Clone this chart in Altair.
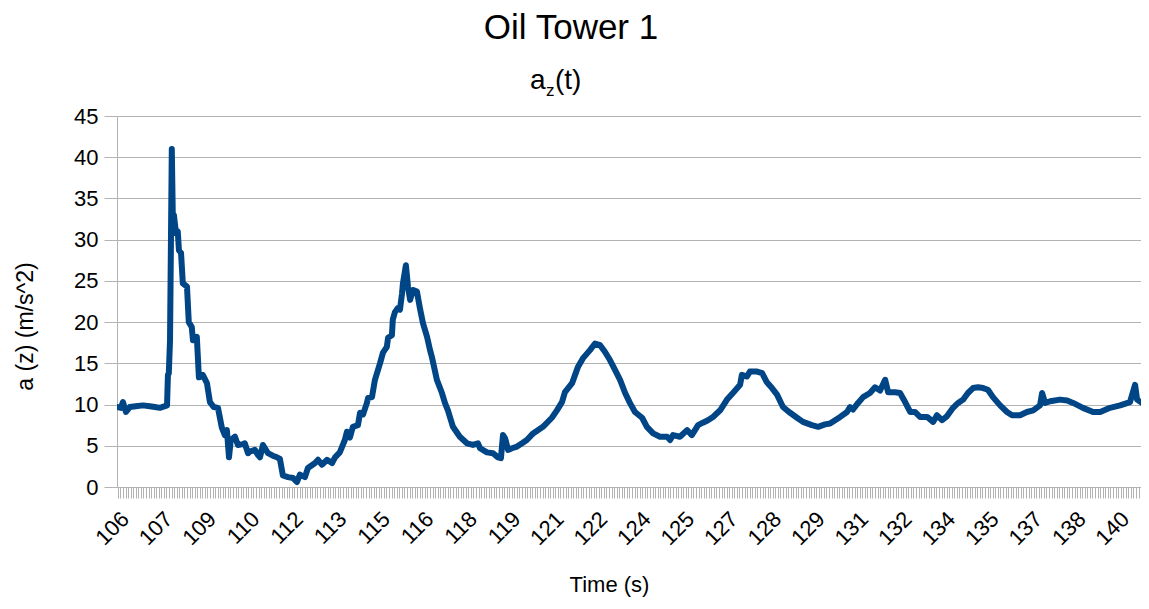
import json
import altair as alt
import pandas as pd

# ---- data ----
time_s = [
    106.00, 106.10, 106.17, 106.27, 106.40, 106.60, 106.84, 107.07, 107.24, 107.41,
    107.58, 107.65, 107.68, 107.71, 107.75, 107.81, 107.85, 107.88, 107.95, 108.01,
    108.05, 108.12, 108.18, 108.32, 108.38, 108.48, 108.52, 108.65, 108.72, 108.85,
    108.99, 109.09, 109.22, 109.36, 109.49, 109.59, 109.66, 109.73, 109.79, 109.93,
    110.03, 110.20, 110.26, 110.37, 110.43, 110.60, 110.70, 110.77, 110.87, 111.04,
    111.20, 111.34, 111.44, 111.54, 111.71, 111.88, 112.01, 112.11, 112.28, 112.38,
    112.62, 112.72, 112.85, 113.02, 113.19, 113.29, 113.45, 113.62, 113.69, 113.79,
    113.89, 114.06, 114.13, 114.23, 114.36, 114.40, 114.53, 114.63, 114.80, 114.90,
    115.03, 115.07, 115.20, 115.23, 115.30, 115.40, 115.47, 115.54, 115.57, 115.67,
    115.74, 115.81, 115.91, 116.04, 116.14, 116.24, 116.38, 116.48, 116.54, 116.71,
    116.88, 116.98, 117.08, 117.25, 117.48, 117.72, 117.92, 118.09, 118.16, 118.39,
    118.59, 118.76, 118.86, 118.93, 119.00, 119.10, 119.23, 119.40, 119.57, 119.73,
    119.94, 120.27, 120.57, 120.74, 120.91, 121.01, 121.25, 121.45, 121.61, 121.85,
    122.02, 122.19, 122.35, 122.52, 122.69, 122.86, 123.03, 123.19, 123.36, 123.60,
    123.76, 123.97, 124.20, 124.44, 124.54, 124.64, 124.87, 125.11, 125.27, 125.48,
    125.64, 125.81, 125.98, 126.22, 126.45, 126.65, 126.89, 126.95, 127.12, 127.22,
    127.46, 127.63, 127.79, 127.96, 128.13, 128.33, 128.57, 128.80, 129.00, 129.30,
    129.51, 129.74, 129.91, 130.25, 130.48, 130.58, 130.68, 130.85, 131.02, 131.25,
    131.42, 131.59, 131.76, 131.86, 132.09, 132.26, 132.43, 132.60, 132.76, 132.93,
    133.17, 133.37, 133.50, 133.67, 133.84, 134.04, 134.21, 134.38, 134.54, 134.71,
    134.88, 135.05, 135.21, 135.38, 135.62, 135.85, 136.02, 136.29, 136.52, 136.73,
    136.96, 137.03, 137.13, 137.30, 137.63, 137.87, 138.07, 138.40, 138.74, 138.98,
    139.31, 139.65, 139.98, 140.15, 140.22, 140.38, 140.59,
]
accel_z = [
    9.7, 9.6, 10.3, 9.1, 9.7, 9.8, 9.9, 9.8, 9.7, 9.6,
    9.8, 9.9, 13.6, 13.8, 17.8, 41.0, 31.2, 33.0, 30.8, 31.0,
    28.7, 28.4, 24.7, 24.3, 20.0, 19.4, 17.8, 18.2, 13.3, 13.6,
    12.6, 10.3, 9.7, 9.6, 7.2, 6.3, 6.9, 3.6, 5.7, 6.1,
    5.1, 5.2, 5.3, 4.1, 4.3, 4.5, 3.9, 3.6, 5.1, 4.1,
    3.8, 3.6, 3.4, 1.4, 1.2, 1.1, 0.6, 1.5, 1.2, 2.3,
    2.9, 3.3, 2.7, 3.3, 2.9, 3.6, 4.2, 5.7, 6.7, 6.0,
    7.3, 7.5, 9.0, 8.8, 10.2, 10.8, 10.9, 13.0, 15.0, 16.3,
    17.0, 18.1, 18.4, 20.3, 21.2, 21.7, 21.5, 23.5, 24.7, 26.9,
    24.3, 22.7, 23.9, 23.7, 21.7, 19.9, 18.2, 16.6, 15.8, 13.0,
    11.4, 10.2, 9.3, 7.3, 6.1, 5.3, 5.1, 5.3, 4.7, 4.2,
    4.1, 3.6, 3.5, 6.3, 5.9, 4.5, 4.7, 4.9, 5.3, 5.7,
    6.5, 7.3, 8.4, 9.3, 10.3, 11.5, 12.6, 14.6, 15.6, 16.6,
    17.4, 17.2, 16.4, 15.4, 14.2, 13.0, 11.4, 10.2, 9.1, 8.4,
    7.3, 6.5, 6.1, 6.1, 5.7, 6.3, 6.1, 6.9, 6.3, 7.5,
    7.8, 8.1, 8.5, 9.3, 10.6, 11.4, 12.4, 13.6, 13.4, 14.0,
    14.0, 13.8, 12.7, 12.0, 11.2, 9.7, 9.0, 8.4, 7.9, 7.5,
    7.3, 7.6, 7.7, 8.5, 9.1, 9.7, 9.4, 10.2, 10.9, 11.4,
    12.1, 11.7, 13.0, 11.5, 11.5, 11.4, 10.3, 9.1, 9.1, 8.5,
    8.5, 7.9, 8.7, 8.1, 8.6, 9.6, 10.2, 10.6, 11.4, 12.0,
    12.1, 12.0, 11.8, 10.9, 9.9, 9.1, 8.7, 8.7, 9.1, 9.3,
    9.9, 11.4, 10.2, 10.4, 10.6, 10.5, 10.2, 9.6, 9.1, 9.1,
    9.6, 9.9, 10.3, 12.4, 10.6, 10.2, 9.6,
]

tick_labels = ["106", "107", "109", "110", "112", "113", "115", "116", "118", "119",
               "121", "122", "124", "125", "127", "128", "129", "131", "132", "134",
               "135", "137", "138", "140"]
y_ticks = [0, 5, 10, 15, 20, 25, 30, 35, 40, 45]

title_text = "Oil Tower 1"
sub_main = "a"
sub_index = "z"
sub_tail = "(t)"
x_title = "Time (s)"
y_title = "a (z) (m/s^2)"

# ---- axis layout (category-style axis: many small ticks, every 17th labelled) ----
label_start = 106.0
label_step = 1.46
ticks_per_label = 17
x_min = 105.97
x_max = 140.35
minor_step = label_step / ticks_per_label
n_ticks = int((x_max - label_start) / minor_step) + 1
tick_values = [round(label_start + j * minor_step, 5) for j in range(n_ticks)]

labels_js = json.dumps(tick_labels).replace('"', "'")
k_expr = f"(datum.value - {label_start}) / {label_step}"
label_expr = (f"abs({k_expr} - round({k_expr})) < 0.02 && round({k_expr}) < {len(tick_labels)} "
              f"? {labels_js}[round({k_expr})] : ''")

FONT = "Liberation Sans"
GRAY = "#b3b3b3"
BLUE = "#004586"

df = pd.DataFrame({"t": time_s, "a": accel_z})

line = alt.Chart(df).mark_line(
    color=BLUE, strokeWidth=6, strokeJoin="round", strokeCap="round", clip=True
).encode(
    x=alt.X("t:Q", scale=alt.Scale(domain=[x_min, x_max], nice=False, zero=False),
            axis=alt.Axis(values=tick_values, labelExpr=label_expr, grid=False,
                          tickSize=11, tickColor=GRAY, tickWidth=1, domainColor=GRAY,
                          labelAngle=-45, labelAlign="right", labelBaseline="top",
                          labelPadding=10, labelFontSize=22, labelOverlap=False,
                          labelFlush=False, labelBound=False,
                          title=x_title, titleFontSize=22, titleFontWeight="normal",
                          titleX=492, titleY=104, titleAlign="center",
                          titleBaseline="alphabetic", titleAnchor="start")),
    y=alt.Y("a:Q", scale=alt.Scale(domain=[0, 45], nice=False),
            axis=alt.Axis(values=y_ticks, grid=True, gridColor=GRAY, tickSize=13,
                          tickColor=GRAY, domainColor=GRAY, labelFontSize=22,
                          labelPadding=6,
                          title=y_title, titleFontSize=23, titleFontWeight="normal",
                          titleX=-92, titleY=210, titleAngle=270, titleAlign="center",
                          titleBaseline="middle", titleAnchor="start")),
)

def header(text, x, y, size, align="left"):
    return alt.Chart(pd.DataFrame({"label": [text]})).mark_text(
        fontSize=size, font=FONT, color="black", align=align, baseline="alphabetic"
    ).encode(text="label:N", x=alt.value(x), y=alt.value(y))

chart = alt.layer(
    line,
    header(title_text, 454, -77, 35, "center"),
    header(sub_main, 413, -27, 28),
    header(sub_index, 429, -20, 17),
    header(sub_tail, 438, -27, 28),
).properties(
    width=1024, height=371,
    autosize=alt.AutoSizeParams(type="none"),
    padding={"left": 109, "top": 108, "right": 0, "bottom": 110},
).configure(font=FONT).configure_axis(
    labelFont=FONT, titleFont=FONT, labelColor="black", titleColor="black"
).configure_view(stroke=None)

chart.save("out.html", embed_options={"renderer": "svg", "actions": False})
